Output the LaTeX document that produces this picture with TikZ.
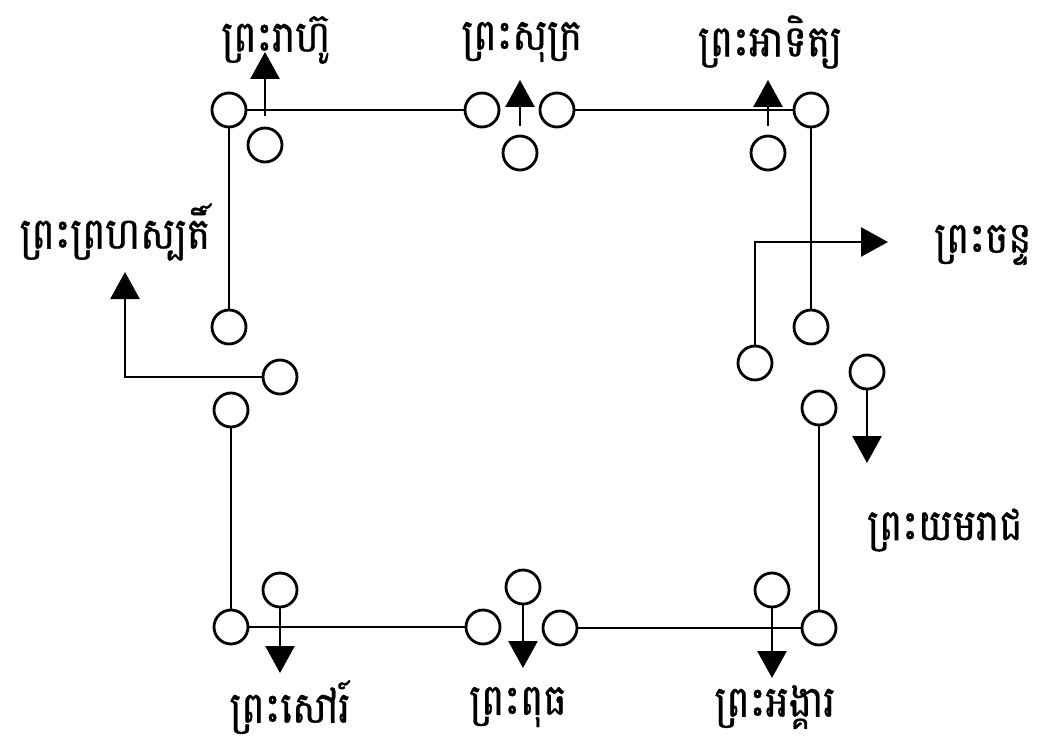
\documentclass[tikz,border=0pt]{standalone}
\usepackage{fontspec}
\newfontfamily\khmerfont[Script=Khmer,FakeBold=0.8]{Battambang}
\newcommand\tallname[1]{\scalebox{1}[1.12]{#1}}
\usetikzlibrary{arrows.meta}

\begin{document}
\begin{tikzpicture}[x=1pt,y=-1pt,line width=2.8pt,
  >={Triangle[length=27pt,width=29pt]},
  planet/.style={circle,draw,minimum size=34pt,inner sep=0pt},
  lbl/.style={font=\khmerfont\fontsize{39}{46}\selectfont,inner sep=0pt}]
\useasboundingbox (0,0) rectangle (1057,751);

% corners and side circles
\node[planet] (tl) at (229,110) {};
\node[planet] (t1) at (482,110) {};
\node[planet] (t2) at (557,110) {};
\node[planet] (tr) at (811,110) {};
\node[planet] (r1) at (811,327) {};
\node[planet] (r4) at (819,408) {};
\node[planet] (br) at (819,628) {};
\node[planet] (b2) at (560,628) {};
\node[planet] (b1) at (483,627) {};
\node[planet] (bl) at (231,627) {};
\node[planet] (l4) at (231,410) {};
\node[planet] (l1) at (229,327) {};

% circles that point out
\node[planet] (rah) at (265,145) {};
\node[planet] (suk) at (520,153) {};
\node[planet] (adi) at (768,153) {};
\node[planet] (chn) at (755,363) {};
\node[planet] (yom) at (867,372) {};
\node[planet] (ang) at (772,590) {};
\node[planet] (put) at (523,587) {};
\node[planet] (sao) at (280,590) {};
\node[planet] (jup) at (280,377) {};

\coordinate (rahtip) at (265,52);
\coordinate (suktip) at (520,80);
\coordinate (aditip) at (768,80);
\coordinate (chntip) at (888,242);
\coordinate (yomtip) at (867,463);
\coordinate (angtip) at (772,678);
\coordinate (puttip) at (523,668);
\coordinate (saotip) at (280,673);
\coordinate (juptip) at (125,272);

% names
\node[lbl] (rahlbl) at (276,40) {\tallname{ព្រះរាហ៊ូ}};
\node[lbl] (suklbl) at (522,42) {\tallname{ព្រះសុក្រ}};
\node[lbl] (adilbl) at (770,42) {\tallname{ព្រះអាទិត្យ}};
\node[lbl] (juplbl) at (115,232) {\tallname{ព្រះព្រហស្បតិ៍}};
\node[lbl] (chnlbl) at (983,245) {\tallname{ព្រះចន្ទ}};
\node[lbl] (yomlbl) at (945,530) {\tallname{ព្រះយមរាជ}};
\node[lbl] (saolbl) at (290,707) {\tallname{ព្រះសៅរ៍}};
\node[lbl] (putlbl) at (518,707) {\tallname{ព្រះពុធ}};
\node[lbl] (anglbl) at (775,707) {\tallname{ព្រះអង្គារ}};

% frame
\path (tl) edge (t1) (t2) edge (tr) (tr) edge (r1) (r4) edge (br)
(br) edge (b2) (b1) edge (bl) (bl) edge (l4) (l1) edge (tl);

\path[->] (rah) edge [shorten <=11pt] (rahtip)
(suk) edge [shorten <=9pt] (suktip)
(adi) edge [shorten <=9pt] (aditip)
(yom) edge (yomtip)
(ang) edge (angtip)
(put) edge (puttip)
(sao) edge (saotip);
\draw[->] (chn) |- (chntip);
\draw[->] (jup) -| (juptip);
\end{tikzpicture}
\end{document}
